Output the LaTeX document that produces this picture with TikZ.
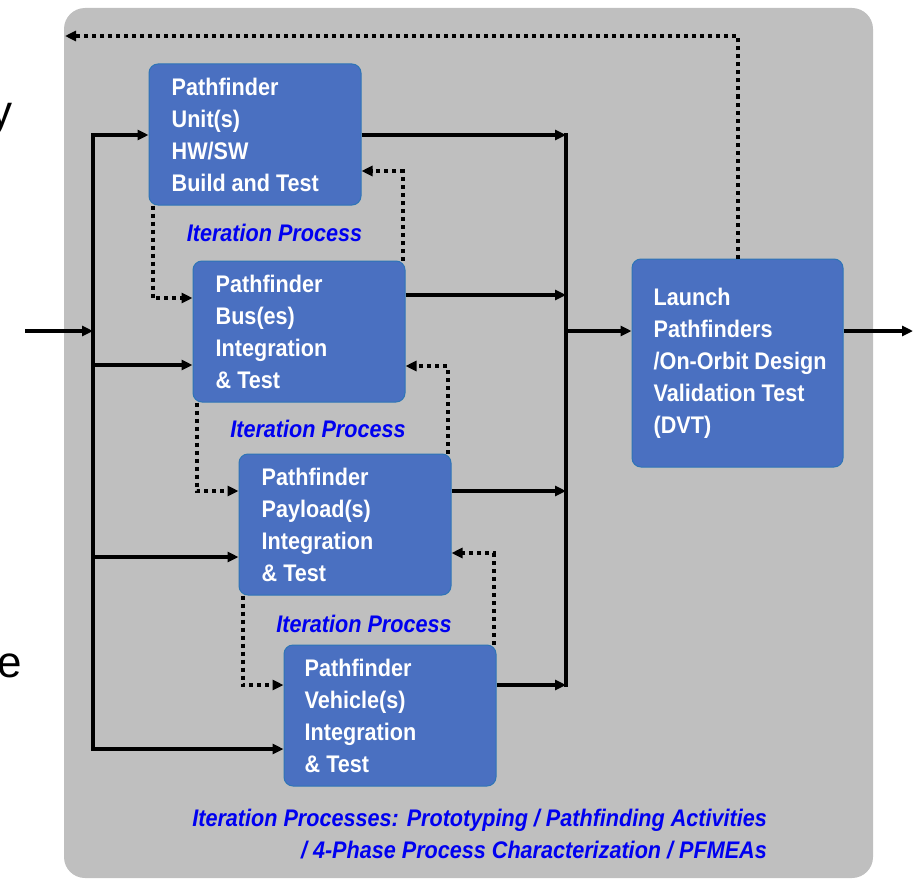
\documentclass[tikz,border=0pt]{standalone}
\usepackage{fontspec}
\newfontfamily\narrowsans[FakeStretch=0.9]{Liberation Sans}
\newfontfamily\plainsans{Liberation Sans}
\usetikzlibrary{arrows.meta}
\definecolor{panelgray}{RGB}{191,191,191}
\definecolor{boxblue}{RGB}{74,112,193}
\definecolor{boxedge}{RGB}{46,117,182}
\definecolor{noteblue}{RGB}{0,0,240}
\begin{document}
\begin{tikzpicture}[x=1pt,y=-1pt,
  stage/.style={draw=boxedge, fill=boxblue, line width=1pt, rounded corners=9pt,
    minimum width=212pt, minimum height=141pt, inner sep=0pt},
  stagetext/.style={anchor=west, align=left, text=white, inner sep=0pt,
    font=\narrowsans\bfseries\fontsize{24}{32}\selectfont},
  note/.style={inner sep=0pt, text=noteblue,
    font=\narrowsans\bfseries\itshape\fontsize{24}{32}\selectfont},
  frag/.style={inner sep=0pt, anchor=base east, font=\plainsans\fontsize{44}{50}\selectfont},
  link/.style={line width=3.5pt},
  arr/.style={line width=3.5pt, -{Triangle[length=11pt,width=10pt]}},
  loopback/.style={line width=4pt, dash pattern=on 4pt off 4pt, -{Triangle[length=11pt,width=10pt]}}
]
\useasboundingbox (0,0) rectangle (917,880);

% grey panel
\fill[panelgray, rounded corners=21pt] (64,8) rectangle (873,878);

% fragments of neighbouring text
\node[frag] (fragy) at (13,126) {y};
\node[frag] (frage) at (22,677) {e};

% stages
\node[stage] (b1) at (255,134.5) {};
\node[stage] (b2) at (299,331.5) {};
\node[stage] (b3) at (345,524.5) {};
\node[stage] (b4) at (390,715.5) {};
\node[stage, minimum width=211pt, minimum height=208pt] (b5) at (737.5,363) {};

\node[stagetext] (t1) at ([xshift=23pt]b1.west) {Pathfinder\\Unit(s)\\HW/SW\\Build and Test};
\node[stagetext] (t2) at ([xshift=23pt]b2.west) {Pathfinder\\Bus(es)\\Integration\\\& Test};
\node[stagetext] (t3) at ([xshift=23pt]b3.west) {Pathfinder\\Payload(s)\\Integration\\\& Test};
\node[stagetext] (t4) at ([xshift=21pt]b4.west) {Pathfinder\\Vehicle(s)\\Integration\\\& Test};
\node[stagetext] (t5) at ([xshift=22pt]b5.west) {Launch\\Pathfinders\\/On-Orbit Design\\Validation Test\\(DVT)};

% iteration labels
\node[note, anchor=base] (it1) at (274.5,241) {Iteration Process};
\node[note, anchor=base] (it2) at (318,437) {Iteration Process};
\node[note, anchor=base] (it3) at (364,632) {Iteration Process};
\node[note, anchor=base east] (foot1) at (767,826) {Iteration Processes: Prototyping / Pathfinding Activities};
\node[note, anchor=base east] (foot2) at (767,858) {/ 4-Phase Process Characterization / PFMEAs};

% left distribution bus
\coordinate (inA) at (25,331);
\coordinate (busLt) at (93,135);
\coordinate (busLb) at (93,749);
\coordinate (l2) at (93,365);
\coordinate (l3) at (93,557);
\draw[arr] (inA) -- (inA -| busLt);
\draw[arr] (busLb) -- (busLt) -- (busLt -| b1.west);
\draw[arr] (busLt) -- (busLb) -- (busLb -| b4.west);
\draw[arr] (l2) -- (l2 -| b2.west);
\draw[arr] (l3) -- (l3 -| b3.west);

% right collection bus
\coordinate (busRt) at (566,135);
\coordinate (r2) at (566,295);
\coordinate (r3) at (566,491);
\coordinate (busRb) at (566,685);
\coordinate (rm) at (566,331);
\coordinate (outA) at (913,331);
\draw[link] ([yshift=1.75pt]busRt) -- ([yshift=-1.75pt]busRb);
\draw[arr] (b1.east |- busRt) -- (busRt);
\draw[arr] (b2.east |- r2) -- (r2);
\draw[arr] (b3.east |- r3) -- (r3);
\draw[arr] (b4.east |- busRb) -- (busRb);
\draw[arr] (rm) -- (rm -| b5.west);
\draw[arr] (outA -| b5.east) -- (outA);

% feedback from launch
\coordinate (fbL) at (65,36);
\draw[loopback] (b5.north) -- (b5.north |- fbL) -- (fbL);

% iteration loops
\coordinate (d12) at (0,298);
\coordinate (u21) at (0,171);
\coordinate (d23) at (0,491);
\coordinate (u32) at (0,366);
\coordinate (d34) at (0,685);
\coordinate (u43) at (0,553);
\draw[loopback] ([xshift=4pt]b1.south west) |- (b2.west |- d12);
\draw[loopback] ([xshift=-3pt]b2.north east) |- (b1.east |- u21);
\draw[loopback] ([xshift=4pt]b2.south west) |- (b3.west |- d23);
\draw[loopback] ([xshift=-4pt]b3.north east) |- (b2.east |- u32);
\draw[loopback] ([xshift=4pt]b3.south west) |- (b4.west |- d34);
\draw[loopback] ([xshift=-3pt]b4.north east) |- (b3.east |- u43);
\end{tikzpicture}
\end{document}
